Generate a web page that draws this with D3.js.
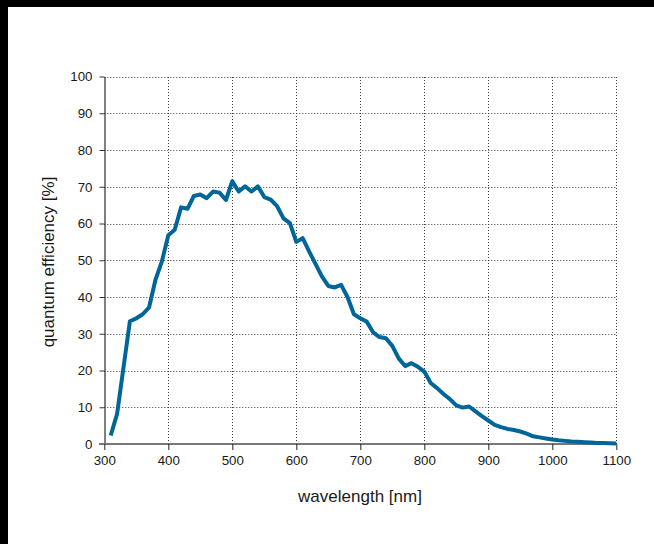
<!DOCTYPE html>
<html>
<head>
<meta charset="utf-8">
<script src="https://cdn.jsdelivr.net/npm/d3@7"></script>
<style>
  html, body { margin: 0; padding: 0; background: #000; }
  svg { display: block; }
  text { font-family: "Liberation Sans", Arial, Helvetica, sans-serif; fill: #1a1a1a; }
</style>
</head>
<body>
<svg id="chart" width="654" height="544"></svg>
<script>
// ---- data ----
const wavelengths = [310,320,330,340,350,360,370,380,390,400,410,420,430,440,450,460,470,480,490,500,
  510,520,530,540,550,560,570,580,590,600,610,620,630,640,650,660,670,680,690,700,
  710,720,730,740,750,760,770,780,790,800,810,820,830,840,850,860,870,880,890,900,
  910,920,930,940,950,960,970,980,990,1000,1010,1020,1030,1040,1050,1060,1070,1080,1090,1100];
const efficiency = [2.3,8.2,20.8,33.4,34.2,35.3,37.2,44.7,49.7,56.8,58.3,64.4,64.0,67.5,67.9,66.9,68.7,68.4,66.4,71.5,
  68.7,70.1,68.7,70.1,67.2,66.5,64.7,61.4,60.1,55.0,56.0,52.4,49.0,45.6,43.0,42.6,43.3,40.0,35.3,34.2,
  33.3,30.4,29.1,28.8,26.7,23.3,21.2,22.0,21.0,19.7,16.6,15.2,13.6,12.2,10.5,9.9,10.2,8.9,7.6,6.4,
  5.2,4.6,4.1,3.8,3.4,2.8,2.1,1.8,1.5,1.2,1.0,0.85,0.7,0.6,0.5,0.4,0.3,0.25,0.2,0.15];
const xTicks = [300,400,500,600,700,800,900,1000,1100];
const yTicks = [0,10,20,30,40,50,60,70,80,90,100];
const xTitle = "wavelength [nm]";
const yTitle = "quantum efficiency [%]";

// ---- layout ----
const svg = d3.select("#chart");
svg.append("rect").attr("x", 8).attr("y", 7).attr("width", 646).attr("height", 537).attr("fill", "#fff");

const x = d3.scaleLinear().domain([300, 1100]).range([104.3, 616.3]);
const y = d3.scaleLinear().domain([0, 100]).range([444, 76.5]);
const fmt = d3.format("d");

// grid
const grid = svg.append("g").attr("stroke", "#3a3a3a").attr("stroke-width", 1).attr("stroke-dasharray", "1,2").attr("fill", "none");
grid.selectAll("line.h").data(yTicks.filter(d => d > 0)).join("line")
  .attr("class", "h")
  .attr("x1", x(300)).attr("x2", x(1100))
  .attr("y1", d => Math.round(y(d)) + 0.5).attr("y2", d => Math.round(y(d)) + 0.5);
grid.selectAll("line.v").data(xTicks.filter(d => d > 300)).join("line")
  .attr("class", "v")
  .attr("y1", y(0)).attr("y2", y(100))
  .attr("x1", d => Math.round(x(d)) + 0.5).attr("x2", d => Math.round(x(d)) + 0.5);

// y axis
const yAxis = d3.axisLeft(y).tickValues(yTicks).tickFormat(fmt).tickSize(5).tickPadding(7).tickSizeOuter(0);
const gy = svg.append("g").attr("transform", "translate(104.5,0)").call(yAxis);
gy.select(".domain").attr("stroke", "#000").attr("stroke-width", 1);
gy.selectAll(".tick line").attr("stroke", "#333");
gy.selectAll(".tick text").style("font-size", "13.3px").style("font-family", "'Liberation Sans', Arial, sans-serif").attr("fill", "#1a1a1a");

// x axis
const xAxis = d3.axisBottom(x).tickValues(xTicks).tickFormat(fmt).tickSize(6).tickPadding(6).tickSizeOuter(0);
const gx = svg.append("g").attr("transform", "translate(0,444)").call(xAxis);
gx.select(".domain").remove();
gx.insert("line", ":first-child").attr("x1", 99).attr("x2", x(1100)).attr("y1", 0).attr("y2", 0)
  .attr("stroke", "#777").attr("stroke-width", 2);
gx.selectAll(".tick line").attr("stroke", "#222");
gx.selectAll(".tick text").style("font-size", "13.3px").style("font-family", "'Liberation Sans', Arial, sans-serif").attr("fill", "#1a1a1a");

// line
const line = d3.line().x((d, i) => x(wavelengths[i])).y(d => y(d));
svg.append("path").datum(efficiency)
  .attr("d", line)
  .attr("fill", "none")
  .attr("stroke", "#00669a")
  .attr("stroke-width", 4)
  .attr("stroke-linejoin", "round");

// titles
svg.append("text").attr("x", 360).attr("y", 502).attr("text-anchor", "middle")
  .style("font-size", "17px").text(xTitle);
svg.append("text").attr("transform", "translate(54,262) rotate(-90)").attr("text-anchor", "middle")
  .style("font-size", "17px").text(yTitle);
</script>
</body>
</html>
